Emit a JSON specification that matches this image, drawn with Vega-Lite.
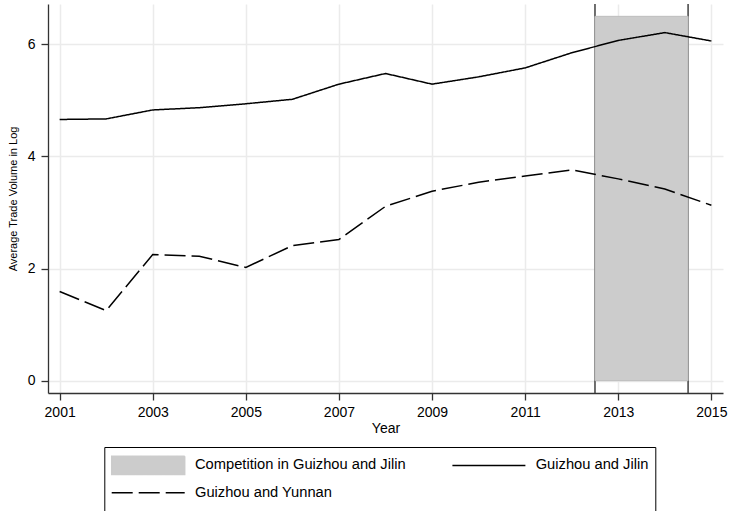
{
  "$schema": "https://vega.github.io/schema/vega-lite/v6.json",
  "width": 675,
  "height": 389,
  "autosize": {"type": "none"},
  "padding": {"left": 48, "top": 4, "right": 6, "bottom": 118},
  "config": {
    "font": "Liberation Sans",
    "view": {"stroke": null},
    "axis": {
      "domainColor": "#333333",
      "domainWidth": 1.3,
      "tickColor": "#333333",
      "tickWidth": 1.3,
      "tickSize": 7,
      "gridColor": "#ebebeb",
      "gridWidth": 1.5,
      "labelFont": "Liberation Sans",
      "labelFontSize": 14,
      "labelColor": "#000000",
      "titleFont": "Liberation Sans",
      "titleColor": "#000000",
      "titleFontWeight": "normal"
    },
    "axisX": {"labelPadding": 5.5, "titleFontSize": 14, "titlePadding": 2},
    "axisY": {"labelPadding": 6, "titleFontSize": 11, "titlePadding": 9}
  },
  "datasets": {
    "trade": [
      {"year": 2001, "series": "Guizhou and Jilin", "value": 4.66},
      {"year": 2002, "series": "Guizhou and Jilin", "value": 4.67},
      {"year": 2003, "series": "Guizhou and Jilin", "value": 4.83},
      {"year": 2004, "series": "Guizhou and Jilin", "value": 4.87},
      {"year": 2005, "series": "Guizhou and Jilin", "value": 4.94},
      {"year": 2006, "series": "Guizhou and Jilin", "value": 5.02},
      {"year": 2007, "series": "Guizhou and Jilin", "value": 5.29},
      {"year": 2008, "series": "Guizhou and Jilin", "value": 5.48},
      {"year": 2009, "series": "Guizhou and Jilin", "value": 5.29},
      {"year": 2010, "series": "Guizhou and Jilin", "value": 5.42},
      {"year": 2011, "series": "Guizhou and Jilin", "value": 5.58},
      {"year": 2012, "series": "Guizhou and Jilin", "value": 5.85},
      {"year": 2013, "series": "Guizhou and Jilin", "value": 6.07},
      {"year": 2014, "series": "Guizhou and Jilin", "value": 6.21},
      {"year": 2015, "series": "Guizhou and Jilin", "value": 6.06},
      {"year": 2001, "series": "Guizhou and Yunnan", "value": 1.59},
      {"year": 2002, "series": "Guizhou and Yunnan", "value": 1.25},
      {"year": 2003, "series": "Guizhou and Yunnan", "value": 2.25},
      {"year": 2004, "series": "Guizhou and Yunnan", "value": 2.22},
      {"year": 2005, "series": "Guizhou and Yunnan", "value": 2.02},
      {"year": 2006, "series": "Guizhou and Yunnan", "value": 2.41},
      {"year": 2007, "series": "Guizhou and Yunnan", "value": 2.52},
      {"year": 2008, "series": "Guizhou and Yunnan", "value": 3.11},
      {"year": 2009, "series": "Guizhou and Yunnan", "value": 3.38},
      {"year": 2010, "series": "Guizhou and Yunnan", "value": 3.54},
      {"year": 2011, "series": "Guizhou and Yunnan", "value": 3.65},
      {"year": 2012, "series": "Guizhou and Yunnan", "value": 3.76},
      {"year": 2013, "series": "Guizhou and Yunnan", "value": 3.60},
      {"year": 2014, "series": "Guizhou and Yunnan", "value": 3.42},
      {"year": 2015, "series": "Guizhou and Yunnan", "value": 3.13}
    ],
    "competition": [
      {"start": 2012.5, "end": 2014.5, "low": 0, "high": 6.5}
    ],
    "boundaries": [
      {"year": 2012.5},
      {"year": 2014.5}
    ]
  },
  "layer": [
    {
      "data": {"name": "boundaries"},
      "mark": {"type": "rule", "color": "#404040", "strokeWidth": 1.5},
      "encoding": {
        "x": {
          "field": "year",
          "type": "quantitative",
          "title": "Year",
          "scale": {"domain": [2000.75, 2015.25], "nice": false, "zero": false},
          "axis": {"values": [2001, 2003, 2005, 2007, 2009, 2011, 2013, 2015], "format": "d", "grid": true}
        }
      }
    },
    {
      "data": {"name": "competition"},
      "mark": {"type": "rect", "fill": "#cccccc", "stroke": "#bdbdbd", "strokeWidth": 1},
      "encoding": {
        "x": {
          "field": "start",
          "type": "quantitative",
          "title": "Year",
          "scale": {"domain": [2000.75, 2015.25], "nice": false, "zero": false},
          "axis": {"values": [2001, 2003, 2005, 2007, 2009, 2011, 2013, 2015], "format": "d", "grid": true}
        },
        "x2": {"field": "end"},
        "y": {
          "field": "low",
          "type": "quantitative",
          "title": "Average Trade Volume in Log",
          "scale": {"domain": [-0.22, 6.72], "nice": false, "zero": false},
          "axis": {"values": [0, 2, 4, 6], "grid": true}
        },
        "y2": {"field": "high"}
      }
    },
    {
      "data": {"name": "trade"},
      "mark": {"type": "line", "strokeWidth": 1.5},
      "encoding": {
        "x": {
          "field": "year",
          "type": "quantitative",
          "title": "Year",
          "scale": {"domain": [2000.75, 2015.25], "nice": false, "zero": false},
          "axis": {"values": [2001, 2003, 2005, 2007, 2009, 2011, 2013, 2015], "format": "d", "grid": true}
        },
        "y": {
          "field": "value",
          "type": "quantitative",
          "title": "Average Trade Volume in Log",
          "scale": {"domain": [-0.22, 6.72], "nice": false, "zero": false},
          "axis": {"values": [0, 2, 4, 6], "grid": true}
        },
        "stroke": {
          "field": "series",
          "type": "nominal",
          "scale": {
            "domain": ["Competition in Guizhou and Jilin", "Guizhou and Jilin", "Guizhou and Yunnan"],
            "range": ["#cccccc", "#000000", "#000000"]
          },
          "legend": {
            "title": null,
            "orient": "none",
            "direction": "horizontal",
            "legendX": 56.3,
            "legendY": 443,
            "columns": 2,
            "columnPadding": 45.7,
            "rowPadding": 3.8,
            "padding": 6.4,
            "clipHeight": 23.2,
            "strokeColor": "#000000",
            "symbolSize": 5329,
            "symbolStrokeWidth": 1.5,
            "labelOffset": 9.3,
            "labelFont": "Liberation Sans",
            "labelFontSize": 14.7,
            "labelColor": "#000000",
            "labelLimit": 230,
            "encode": {
              "symbols": {
                "update": {
                  "shape": [
                    {"test": "datum.value === 'Competition in Guizhou and Jilin'", "value": "M-1,-0.25H1V0.25H-1Z"},
                    {"value": "stroke"}
                  ],
                  "fill": [
                    {"test": "datum.value === 'Competition in Guizhou and Jilin'", "value": "#cccccc"},
                    {"value": "transparent"}
                  ],
                  "strokeDash": [
                    {"test": "datum.value === 'Guizhou and Yunnan'", "value": [21, 6]},
                    {"value": [1, 0]}
                  ]
                }
              }
            }
          }
        },
        "strokeDash": {
          "field": "series",
          "type": "nominal",
          "scale": {
            "domain": ["Guizhou and Jilin", "Guizhou and Yunnan"],
            "range": [[1, 0], [21, 6]]
          },
          "legend": null
        }
      }
    }
  ]
}
